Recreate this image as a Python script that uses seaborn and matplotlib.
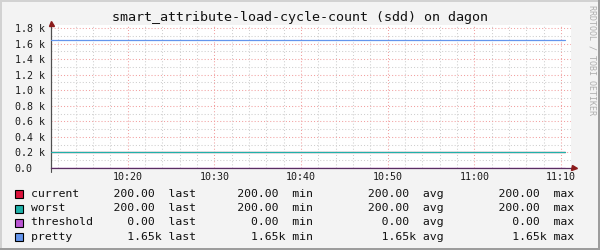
import matplotlib
matplotlib.use("Agg")
import matplotlib.pyplot as plt
import matplotlib.dates as mdates
import matplotlib.ticker as mticker
from matplotlib.patches import Rectangle
from matplotlib.lines import Line2D
import seaborn as sns
import pandas as pd

# ---------------- data ----------------
title = "smart_attribute-load-cycle-count (sdd) on dagon"
day = "2024-01-01"
times = ["10:11:09", "10:20:00", "10:30:00", "10:40:00", "10:50:00", "11:00:00", "11:10:27"]
series_names = ["current", "worst", "threshold", "pretty"]
current = [200, 200, 200, 200, 200, 200, 200]
worst = [200, 200, 200, 200, 200, 200, 200]
threshold = [0, 0, 0, 0, 0, 0, 0]
pretty = [1650, 1650, 1650, 1650, 1650, 1650, 1650]
series_colors = ["#DC143C", "#20B2AA", "#BA55D3", "#6495ED"]
y_ticks = [0, 200, 400, 600, 800, 1000, 1200, 1400, 1600, 1800]
y_tick_labels = ["0.0", "0.2 k", "0.4 k", "0.6 k", "0.8 k", "1.0 k",
                 "1.2 k", "1.4 k", "1.6 k", "1.8 k"]
x_tick_labels = ["10:20", "10:30", "10:40", "10:50", "11:00", "11:10"]
x_range = ["10:11:09", "11:11:09"]
y_top = 1838
side_text = "RRDTOOL / TOBI OETIKER"

# ---------------- frame ----------------
W, H = 600, 250
mono = "DejaVu Sans Mono"
values = {"current": current, "worst": worst, "threshold": threshold, "pretty": pretty}
rows = []
for name in series_names:
    for t, v in zip(times, values[name]):
        rows.append({"time": pd.Timestamp(f"{day} {t}"), "value": v, "series": name})
df = pd.DataFrame(rows)

sns.set_style("white")
plt.rcParams["font.family"] = [mono, "DejaVu Sans"]

fig = plt.figure(figsize=(W / 100, H / 100), dpi=100)
fig.patch.set_facecolor("#F3F3F3")
ax = fig.add_axes([51 / W, 82 / H, 520 / W, 143 / H])
ax.set_facecolor("white")

sns.lineplot(data=df, x="time", y="value", hue="series", hue_order=series_names,
             palette=series_colors, estimator=None, legend=False, linewidth=0.9,
             ax=ax, zorder=3)

ax.set_xlim(pd.Timestamp(f"{day} {x_range[0]}"), pd.Timestamp(f"{day} {x_range[1]}"))
ax.set_ylim(0, y_top)
ax.set_xlabel("")
ax.set_ylabel("")

ax.set_yticks(y_ticks)
ax.set_yticklabels(y_tick_labels)
ax.yaxis.set_minor_locator(mticker.MultipleLocator(100))
ax.set_xticks([pd.Timestamp(f"{day} {l}") for l in x_tick_labels])
ax.xaxis.set_major_formatter(mdates.DateFormatter("%H:%M"))
ax.xaxis.set_minor_locator(mdates.MinuteLocator(byminute=range(0, 60, 2)))

ax.set_axisbelow(True)
ax.grid(which="major", color="#F2A0A0", linestyle=(0, (1, 2)), linewidth=0.75)
ax.grid(which="minor", color="#CFCFCF", linestyle=(0, (1, 2)), linewidth=0.75)

ax.tick_params(axis="y", which="major", length=2.2, width=0.8, color="#404040",
               direction="out", pad=23.9, labelsize=7.2, labelcolor="#1A1A1A")
for lbl in ax.get_yticklabels():
    lbl.set_horizontalalignment("left")
    lbl.set_family(mono)
ax.tick_params(axis="x", which="major", length=0, pad=3, labelsize=7.2,
               labelcolor="#1A1A1A")
for lbl in ax.get_xticklabels():
    lbl.set_family(mono)
ax.tick_params(which="minor", length=0)

for s in ["top", "right"]:
    ax.spines[s].set_visible(False)
ax.spines["left"].set_color("#505050")
ax.spines["left"].set_linewidth(0.8)
ax.spines["bottom"].set_color("#5A2E62")
ax.spines["bottom"].set_linewidth(0.9)
ax.spines["bottom"].set_zorder(4)

# axis extensions and arrows
ax.plot([1.0, 1.006], [0, 0], color="#5A2E62", lw=0.9, transform=ax.transAxes, clip_on=False)
ax.plot([0, 0], [-0.025, 1.0], color="#505050", lw=0.8, transform=ax.transAxes, clip_on=False)
ax.plot([1.0062], [0], marker=">", color="#8B1A1A", markersize=3.6, transform=ax.transAxes,
        clip_on=False, zorder=5)
ax.plot([0], [1.012], marker="^", color="#8B1A1A", markersize=3.6, transform=ax.transAxes,
        clip_on=False, zorder=5)

# title and side text
fig.text(0.5, 1 - 18 / H, title, ha="center", va="center", family=mono, size=9.6,
         color="#111111")
fig.text(592 / W, 1 - 60 / H, side_text, rotation=270, ha="center", va="center",
         family=mono, size=6, color="#AEAEAE")


# legend
def fmt(v):
    if abs(v) >= 1000:
        return f"{v / 1000:.2f}", "k"
    return f"{v:.2f}", " "


row_y = [194, 208.3, 222.3, 236.5]
for name, color, yy in zip(series_names, series_colors, row_y):
    vals = values[name]
    stats = [vals[-1], min(vals), sum(vals) / len(vals), max(vals)]
    (a, ua), (b, ub), (c, uc), (d, ud) = [fmt(s) for s in stats]
    line = (name.ljust(12) + a.rjust(6) + ua + " last" + b.rjust(12) + ub + " min"
            + c.rjust(14) + uc + " avg" + d.rjust(14) + ud + " max")
    fig.text(30.6 / W, 1 - yy / H, line, ha="left", va="center", family=mono,
             size=8.25, color="#111111")
    fig.add_artist(Rectangle((15 / W, 1 - (yy + 4.3) / H), 8 / W, 8 / H,
                             transform=fig.transFigure, facecolor=color,
                             edgecolor="black", linewidth=0.8))

# outer frame
fig.add_artist(Line2D([0, 1], [1 - 1 / H, 1 - 1 / H], transform=fig.transFigure,
                      color="#D2D2D2", lw=1.44))
fig.add_artist(Line2D([1 / W, 1 / W], [0, 1], transform=fig.transFigure,
                      color="#D2D2D2", lw=1.44))
fig.add_artist(Line2D([0, 1], [1 / H, 1 / H], transform=fig.transFigure,
                      color="#9C9C9C", lw=1.44))
fig.add_artist(Line2D([1 - 1 / W, 1 - 1 / W], [0, 1], transform=fig.transFigure,
                      color="#9C9C9C", lw=1.44))

fig.savefig("out.png", dpi=100, facecolor=fig.get_facecolor())
